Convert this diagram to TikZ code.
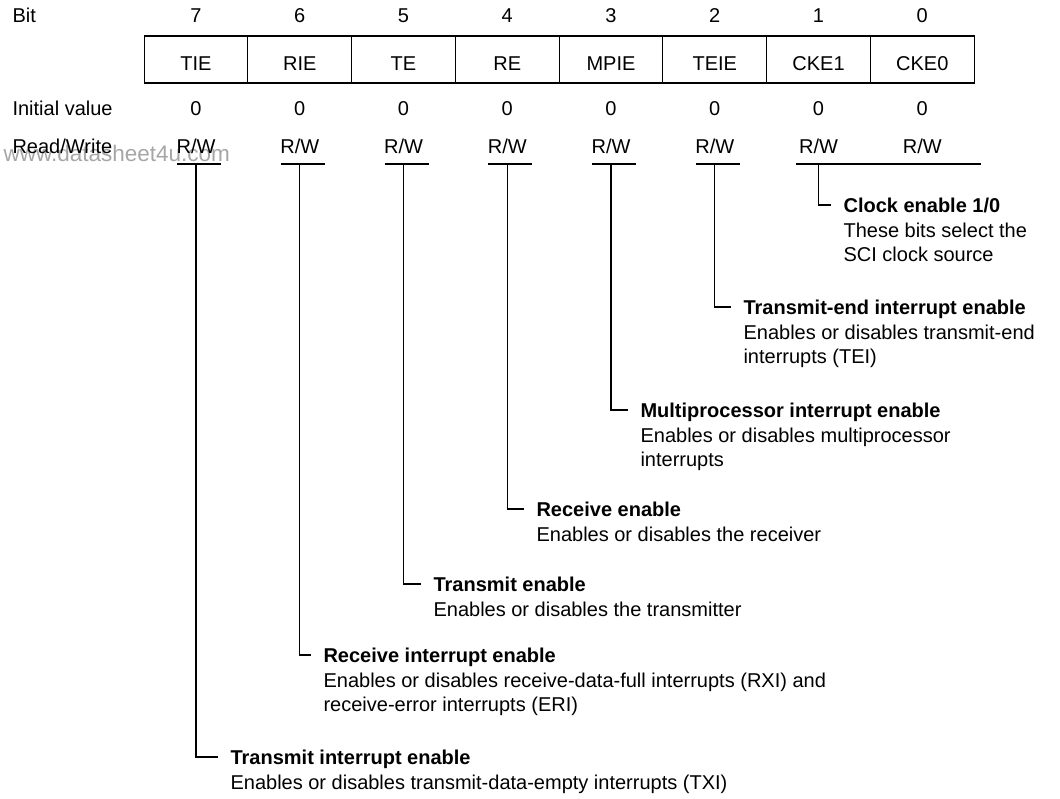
\documentclass[tikz,border=0pt]{standalone}
\usepackage{fontspec}
\setmainfont{Liberation Sans}
\usetikzlibrary{positioning}

\begin{document}
\begin{tikzpicture}[
  x=1pt, y=-1pt,
  font=\fontsize{20}{24.5}\selectfont,
  line width=1.1pt,
  rowlbl/.style={anchor=base west, inner sep=0},
  cell/.style={draw, minimum width=103.75pt, minimum height=47pt,
               inner sep=0, text height=21pt, text depth=0pt},
  bitval/.style={anchor=base, inner sep=0},
  desc/.style={anchor=north west, align=left, inner sep=0},
  link/.style={line width=1.1pt},
]
\useasboundingbox (0,0) rectangle (1060,798);

% watermark sits under the row label
\node[rowlbl, text=black!35, font=\fontsize{22.5}{24}\selectfont] (wm) at (3,161) {www.datasheet4u.com};

% row labels
\node[rowlbl] (lbit)  at (12,22)  {Bit};
\node[rowlbl] (linit) at (12,115) {Initial value};
\node[rowlbl] (lrw)   at (12,153) {Read/Write};

% register cells, bit numbers, initial values, access
\foreach \n/\b [count=\i from 0] in {TIE/7,RIE/6,TE/5,RE/4,MPIE/3,TEIE/2,CKE1/1,CKE0/0} {
  \node[cell]   (c\b)  at ({196+103.75*\i},59.5) {\n};
  \node[bitval] (b\b)  at ({196+103.75*\i},22)   {\b};
  \node[bitval] (v\b)  at ({196+103.75*\i},115)  {0};
  \node[bitval] (rw\b) at ({196+103.75*\i},153)  {R/W};
}
\foreach \b in {7,...,2}
  \draw[link] ([xshift=-19pt,yshift=-11pt]rw\b.base) -- ++(44pt,0);
\draw[link] ([xshift=-23pt,yshift=-11pt]rw1.base) -- ([xshift=59pt,yshift=-11pt]rw0.base);

% bit descriptions
\node[desc] (d1) at (843,195) {\strut\textbf{Clock enable 1/0}\\These bits select the\\SCI clock source};
\node[desc] (d2) at (743,297) {\strut\textbf{Transmit-end interrupt enable}\\Enables or disables transmit-end\\interrupts (TEI)};
\node[desc] (d3) at (640,400) {\strut\textbf{Multiprocessor interrupt enable}\\Enables or disables multiprocessor\\interrupts};
\node[desc] (d4) at (536,499) {\strut\textbf{Receive enable}\\Enables or disables the receiver};
\node[desc] (d5) at (433,574) {\strut\textbf{Transmit enable}\\Enables or disables the transmitter};
\node[desc] (d6) at (323,645) {\strut\textbf{Receive interrupt enable}\\Enables or disables receive-data-full interrupts (RXI) and\\receive-error interrupts (ERI)};
\node[desc] (d7) at (230,747) {\strut\textbf{Transmit interrupt enable}\\Enables or disables transmit-data-empty interrupts (TXI)};

% leader lines
\foreach \b in {7,...,1}
  \draw[link] ([yshift=-11pt]rw\b.base) |- ([xshift=-12pt,yshift=-10pt]d\b.north west);
\end{tikzpicture}
\end{document}
